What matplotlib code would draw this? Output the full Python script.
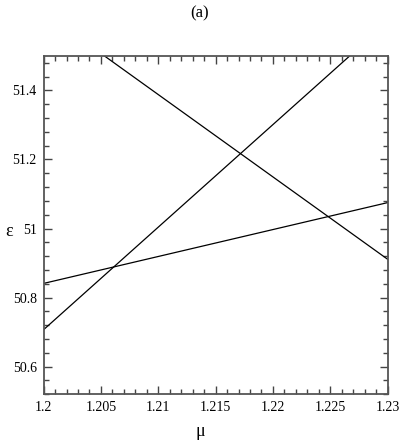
import numpy as np
import matplotlib
matplotlib.use("Agg")
import matplotlib.pyplot as plt
from matplotlib.ticker import MultipleLocator

plt.rcParams['font.family'] = ['Liberation Serif', 'DejaVu Serif']

# endpoints of the three level lines (mu, epsilon)
line_a_mu = [1.2, 1.23]
line_a_eps = [50.841, 51.075]
line_b_mu = [1.2, 1.2267]
line_b_eps = [50.707, 51.5]
line_c_mu = [1.2053, 1.23]
line_c_eps = [51.5, 50.911]

fig = plt.figure(figsize=(4.0, 4.47), dpi=100)
ax = fig.add_axes([0.109, 0.118, 0.86, 0.757])

for mu, eps in [(line_a_mu, line_a_eps), (line_b_mu, line_b_eps), (line_c_mu, line_c_eps)]:
    ax.plot(mu, eps, color='black', linewidth=0.9)

ax.set_xlim(1.2, 1.23)
ax.set_ylim(50.52, 51.5)
ax.xaxis.set_minor_locator(MultipleLocator(0.001))
ax.yaxis.set_minor_locator(MultipleLocator(0.04))
ax.set_xticks([1.2, 1.205, 1.21, 1.215, 1.22, 1.225, 1.23])
ax.set_xticklabels(['1.2', '1.205', '1.21', '1.215', '1.22', '1.225', '1.23'])
ax.set_yticks([50.6, 50.8, 51.0, 51.2, 51.4])
ax.set_yticklabels(['50.6', '50.8', '51', '51.2', '51.4'])

ax.tick_params(which='both', direction='in', top=True, right=True, labelsize=10, color='#444444')
ax.tick_params(which='major', length=6, width=1, pad=5)
ax.tick_params(which='minor', length=3.5, width=1)
for s in ax.spines.values():
    s.set_color('#555555')
    s.set_linewidth(1.3)

fig.text(0.5, 1 - 432 / 447, 'μ', ha='center', va='center', fontsize=13)
fig.text(0.022, 1 - 232 / 447, 'ε', ha='center', va='center', fontsize=13)
fig.text(0.5, 0.97, '(a)', ha='center', va='center', fontsize=12)

fig.savefig('out.png', dpi=100)
